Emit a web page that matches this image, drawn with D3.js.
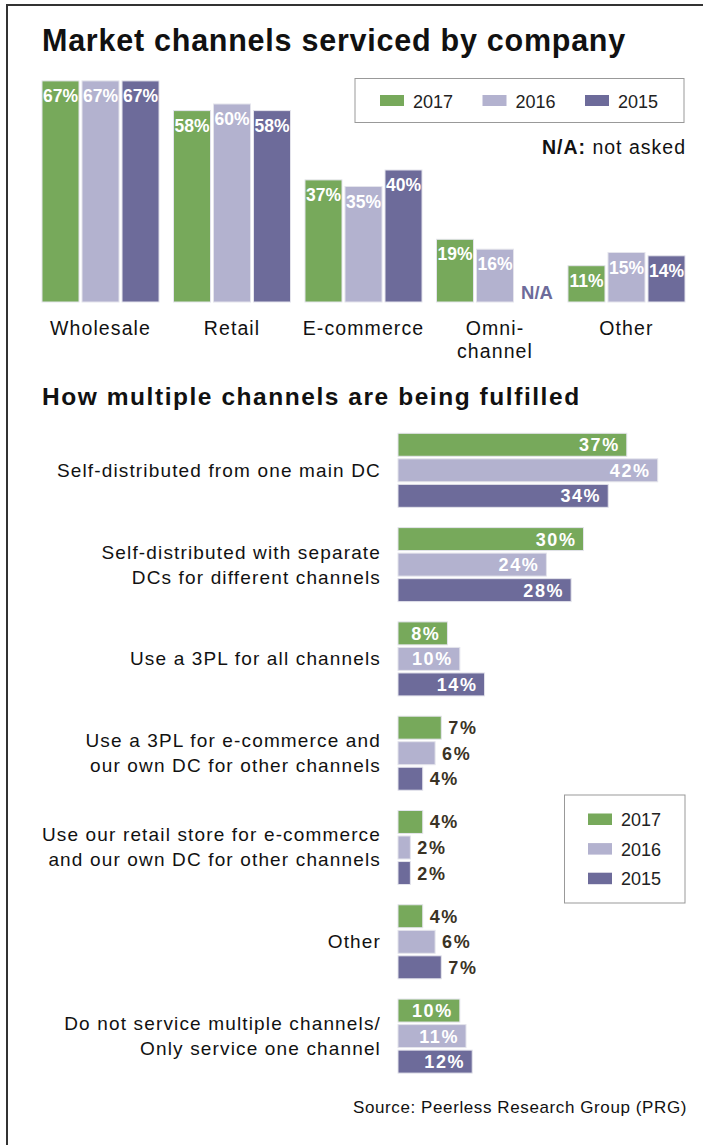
<!DOCTYPE html>
<html>
<head>
<meta charset="utf-8">
<script src="https://cdn.jsdelivr.net/npm/d3@7"></script>
<style>
  html, body { margin: 0; padding: 0; background: #fff; }
  svg { display: block; font-family: "Liberation Sans", Arial, Helvetica, sans-serif; }
</style>
</head>
<body>
<svg id="chart" width="703" height="1145"></svg>
<script>
/// data ///
const years = ["2017", "2016", "2015"];

// top chart - market channels
const channels = ["Wholesale", "Retail", "E-commerce", "Omni-\nchannel", "Other"];
const channels2017 = [67, 58, 37, 19, 11];
const channels2016 = [67, 60, 35, 16, 15];
const channels2015 = [67, 58, 40, null, 14]; // null = not asked

// bottom chart - fulfilment methods
const methods = [
  "Self-distributed from one main DC",
  "Self-distributed with separate\nDCs for different channels",
  "Use a 3PL for all channels",
  "Use a 3PL for e-commerce and\nour own DC for other channels",
  "Use our retail store for e-commerce\nand our own DC for other channels",
  "Other",
  "Do not service multiple channels/\nOnly service one channel"
];
const methods2017 = [37, 30, 8, 7, 4, 4, 10];
const methods2016 = [42, 24, 10, 6, 2, 6, 11];
const methods2015 = [34, 28, 14, 4, 2, 7, 12];

/// constants ///
const colours = { "2017": "#77a95b", "2016": "#b3b2cf", "2015": "#6d6b9a" };
const barStroke = "#e4e4ec";
const darkLabel = "#3a3325";

const svg = d3.select("#chart");

// frame
svg.append("rect")
  .attr("x", 7).attr("y", 5)
  .attr("width", 702).attr("height", 1200)
  .attr("fill", "none")
  .attr("stroke", "#333")
  .attr("stroke-width", 2);

// titles
svg.append("text")
  .attr("x", 42).attr("y", 51)
  .attr("font-size", 30.5).attr("font-weight", "bold")
  .attr("letter-spacing", 0.75)
  .attr("fill", "#111")
  .text("Market channels serviced by company");

svg.append("text")
  .attr("x", 42).attr("y", 405)
  .attr("font-size", 24.5).attr("font-weight", "bold")
  .attr("letter-spacing", 1.55)
  .attr("fill", "#111")
  .text("How multiple channels are being fulfilled");

/// top chart ///
const topRows = channels.map((c, i) => ({
  channel: c,
  values: [
    { year: "2017", value: channels2017[i] },
    { year: "2016", value: channels2016[i] },
    { year: "2015", value: channels2015[i] }
  ]
}));

const xTop = d3.scaleBand()
  .domain(channels)
  .range([42, 685])
  .paddingInner(0.11)
  .paddingOuter(0);

const xTopInner = d3.scaleBand()
  .domain(years)
  .range([0, xTop.bandwidth()])
  .paddingInner(0.075);

const yTop = d3.scaleLinear()
  .domain([0, 100])
  .range([302, -28]);

const topGroups = svg.append("g").selectAll(".top-group")
  .data(topRows)
  .join("g")
  .classed("top-group", true)
  .attr("transform", d => `translate(${xTop(d.channel)},0)`);

topGroups.selectAll("rect")
  .data(d => d.values.filter(v => v.value != null))
  .join("rect")
  .attr("x", d => xTopInner(d.year))
  .attr("y", d => yTop(d.value))
  .attr("width", xTopInner.bandwidth())
  .attr("height", d => yTop(0) - yTop(d.value))
  .attr("fill", d => colours[d.year])
  .attr("stroke", barStroke)
  .attr("stroke-width", 1);

topGroups.selectAll(".bar-label")
  .data(d => d.values)
  .join("text")
  .classed("bar-label", true)
  .attr("x", d => xTopInner(d.year) + xTopInner.bandwidth() / 2 + (d.value == null ? 2 : 0))
  .attr("y", d => d.value == null ? yTop(0) - 3 : yTop(d.value) + 21)
  .attr("text-anchor", "middle")
  .attr("font-size", d => d.value == null ? 18.5 : 17.5)
  .attr("font-weight", "bold")
  .attr("fill", d => d.value == null ? colours["2015"] : "#fff")
  .text(d => d.value == null ? "N/A" : d.value + "%");

// category labels under the groups
topGroups.append("text")
  .attr("x", xTop.bandwidth() / 2)
  .attr("y", 335)
  .attr("text-anchor", "middle")
  .attr("font-size", 19.5)
  .attr("letter-spacing", 1.1)
  .attr("fill", "#111")
  .selectAll("tspan")
  .data(d => d.channel.split("\n"))
  .join("tspan")
  .attr("x", xTop.bandwidth() / 2)
  .attr("dy", (d, i) => i === 0 ? 0 : 23)
  .text(d => d);

// top legend
const topLegend = svg.append("g");
topLegend.append("rect")
  .attr("x", 355).attr("y", 78.5)
  .attr("width", 329).attr("height", 44)
  .attr("fill", "none")
  .attr("stroke", "#999").attr("stroke-width", 1);

const topLegendItems = topLegend.selectAll(".legend-item")
  .data(years)
  .join("g")
  .classed("legend-item", true)
  .attr("transform", (d, i) => `translate(${380 + i * 102.5},0)`);
topLegendItems.append("rect")
  .attr("y", 95).attr("width", 24).attr("height", 11)
  .attr("fill", d => colours[d]);
topLegendItems.append("text")
  .attr("x", 33).attr("y", 107.5)
  .attr("font-size", 18).attr("fill", "#222")
  .text(d => d);

// N/A note
const naNote = svg.append("text")
  .attr("x", 686).attr("y", 154)
  .attr("text-anchor", "end")
  .attr("font-size", 19.5)
  .attr("letter-spacing", 1)
  .attr("fill", "#111");
naNote.append("tspan").attr("font-weight", "bold").text("N/A:");
naNote.append("tspan").text(" not asked");

/// bottom chart ///
const bottomRows = methods.map((m, i) => ({
  method: m,
  values: [
    { year: "2017", value: methods2017[i] },
    { year: "2016", value: methods2016[i] },
    { year: "2015", value: methods2015[i] }
  ]
}));

const yBottom = d3.scaleBand()
  .domain(methods)
  .range([433.3, 1073.1])
  .paddingInner(0.215)
  .paddingOuter(0);

const yBottomInner = d3.scaleBand()
  .domain(years)
  .range([0, yBottom.bandwidth()])
  .paddingInner(0.1);

const xBottom = d3.scaleLinear()
  .domain([0, 42])
  .range([398, 657.7]);

const bottomGroups = svg.append("g").selectAll(".bottom-group")
  .data(bottomRows)
  .join("g")
  .classed("bottom-group", true)
  .attr("transform", d => `translate(0,${yBottom(d.method)})`);

bottomGroups.selectAll("rect")
  .data(d => d.values)
  .join("rect")
  .attr("x", xBottom(0))
  .attr("y", d => yBottomInner(d.year))
  .attr("width", d => xBottom(d.value) - xBottom(0))
  .attr("height", yBottomInner.bandwidth())
  .attr("fill", d => colours[d.year])
  .attr("stroke", barStroke)
  .attr("stroke-width", 1);

// labels inside the bar when it is wide enough, else just after it
bottomGroups.selectAll(".bar-label")
  .data(d => d.values)
  .join("text")
  .classed("bar-label", true)
  .attr("x", d => d.value >= 8 ? xBottom(d.value) - 7 : xBottom(d.value) + 7)
  .attr("y", d => yBottomInner(d.year) + yBottomInner.bandwidth() / 2)
  .attr("dy", "0.36em")
  .attr("text-anchor", d => d.value >= 8 ? "end" : "start")
  .attr("font-size", 18)
  .attr("font-weight", "bold")
  .attr("letter-spacing", 1.6)
  .attr("fill", d => d.value >= 8 ? "#fff" : darkLabel)
  .text(d => d.value + "%");

// method labels, right aligned, centred on the group
const lineHeight = 25;
bottomGroups.append("text")
  .attr("text-anchor", "end")
  .attr("font-size", 19)
  .attr("letter-spacing", 1.15)
  .attr("fill", "#111")
  .selectAll("tspan")
  .data(d => {
    const lines = d.method.split("\n");
    return lines.map((l, i) => ({ text: l, i: i, n: lines.length }));
  })
  .join("tspan")
  .attr("x", 381)
  .attr("y", d => yBottom.bandwidth() / 2 + 6.5 + (d.i - (d.n - 1) / 2) * lineHeight)
  .text(d => d.text);

// bottom legend
const bottomLegend = svg.append("g");
bottomLegend.append("rect")
  .attr("x", 564.5).attr("y", 795)
  .attr("width", 120.5).attr("height", 108)
  .attr("fill", "none")
  .attr("stroke", "#999").attr("stroke-width", 1);

const bottomLegendItems = bottomLegend.selectAll(".legend-item")
  .data(years)
  .join("g")
  .classed("legend-item", true)
  .attr("transform", (d, i) => `translate(588,${813.5 + i * 29.6})`);
bottomLegendItems.append("rect")
  .attr("width", 24).attr("height", 11.5)
  .attr("fill", d => colours[d]);
bottomLegendItems.append("text")
  .attr("x", 33).attr("y", 12.5)
  .attr("font-size", 18).attr("fill", "#222")
  .text(d => d);

// source
svg.append("text")
  .attr("x", 687).attr("y", 1113)
  .attr("text-anchor", "end")
  .attr("font-size", 17)
  .attr("letter-spacing", 0.6)
  .attr("fill", "#111")
  .text("Source: Peerless Research Group (PRG)");
</script>
</body>
</html>
